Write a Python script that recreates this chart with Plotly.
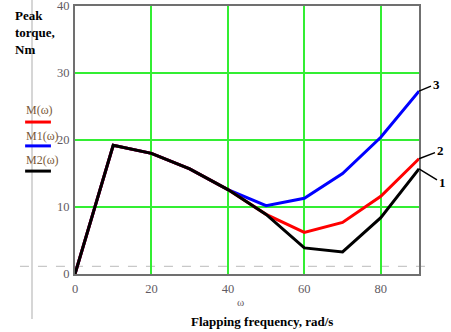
import plotly.graph_objects as go

omega = [0, 10, 20, 30, 40, 50, 60, 70, 80, 90]
M = [0, 19.2, 18.0, 15.7, 12.6, 8.9, 6.2, 7.7, 11.6, 17.2]
M1 = [0, 19.2, 18.0, 15.7, 12.6, 10.2, 11.3, 15.0, 20.4, 27.3]
M2 = [0, 19.2, 18.0, 15.7, 12.6, 8.9, 3.9, 3.3, 8.4, 15.7]
ref_level = 1.15
x_ticks = [0, 20, 40, 60, 80]
y_ticks = [0, 10, 20, 30, 40]
curve_labels = ["3", "2", "1"]

fig = go.Figure()
fig.add_trace(go.Scatter(x=omega, y=M1, mode="lines", line=dict(color="#0000ff", width=3), hoverinfo="skip"))
fig.add_trace(go.Scatter(x=omega, y=M, mode="lines", line=dict(color="#ff0000", width=3), hoverinfo="skip"))
fig.add_trace(go.Scatter(x=omega, y=M2, mode="lines", line=dict(color="black", width=3), hoverinfo="skip"))

tickfont = dict(family="Liberation Serif", size=12.5, color="#5f5a62")
fig.update_layout(
    width=451, height=332, autosize=False,
    margin=dict(l=75, r=32, t=6, b=58, pad=0),
    paper_bgcolor="white", plot_bgcolor="white",
    showlegend=False,
    xaxis=dict(range=[0, 90], tickvals=x_ticks, showgrid=True, gridcolor="#33ee33", gridwidth=1.5,
               zeroline=False, showline=True, linecolor="#707070", linewidth=2, mirror=True,
               ticks="", tickfont=tickfont, ticklabelstandoff=2, automargin=False,
               ticklabeloverflow="allow"),
    yaxis=dict(range=[0, 40], tickvals=y_ticks, showgrid=True, gridcolor="#33ee33", gridwidth=1.5,
               zeroline=False, showline=True, linecolor="#707070", linewidth=2, mirror=True,
               ticks="", tickfont=tickfont, ticklabelstandoff=1, automargin=False,
               ticklabeloverflow="allow"),
)

# dashed reference line
fig.add_shape(type="line", xref="paper", yref="y", x0=-0.16, x1=1.035, y0=ref_level, y1=ref_level,
              line=dict(color="#c8c8c8", width=1.2, dash="dash"), layer="below")
# vertical grey line at left
fig.add_shape(type="line", xref="paper", yref="paper", x0=-0.125, x1=-0.125, y0=-0.168, y1=1.022,
              line=dict(color="#c8c8c8", width=1.5))

# legend-like labels
leg = [("M(ω)", "#ff0000", 0.612, 0.567), ("M1(ω)", "#0000ff", 0.515, 0.478), ("M2(ω)", "black", 0.425, 0.384)]
for t, c, ty, ly in leg:
    fig.add_annotation(text=t, xref="paper", yref="paper", x=-0.148, y=ty, xanchor="left", yanchor="middle",
                       showarrow=False, font=dict(family="Liberation Serif", size=12, color="#7a5a3a"))
    fig.add_shape(type="line", xref="paper", yref="paper", x0=-0.145, x1=-0.07, y0=ly, y1=ly,
                  line=dict(color=c, width=3))

# title text
fig.add_annotation(text="<b>Peak<br>torque,<br>Nm</b>", xref="paper", yref="paper", x=-0.18, y=1.0,
                   xanchor="left", yanchor="top", align="left", showarrow=False,
                   font=dict(family="Liberation Serif", size=13, color="black"))
fig.add_annotation(text="ω", xref="paper", yref="paper", x=0.48, y=-0.104, xanchor="center", yanchor="middle",
                   showarrow=False, font=dict(family="Liberation Serif", size=11, color="#5f5a62"))
fig.add_annotation(text="<b>Flapping frequency, rad/s</b>", xref="paper", yref="paper", x=0.544, y=-0.179,
                   xanchor="center", yanchor="middle", showarrow=False,
                   font=dict(family="Liberation Serif", size=13, color="black"))

# curve number labels with leader lines
ends = [M1[-1], M[-1], M2[-1]]
offsets = [(17, -7), (21, -8), (23, 14)]
for lab, yv, (dx, dy) in zip(curve_labels, ends, offsets):
    fig.add_annotation(x=omega[-1], y=yv, text="<b>" + lab + "</b>", ax=dx, ay=dy, showarrow=True,
                       arrowhead=0, arrowwidth=1.5, arrowcolor="black",
                       font=dict(family="Liberation Serif", size=13, color="black"))

fig.write_html("out.html", config={"displayModeBar": False},
               post_script="document.body.style.margin='0';")
